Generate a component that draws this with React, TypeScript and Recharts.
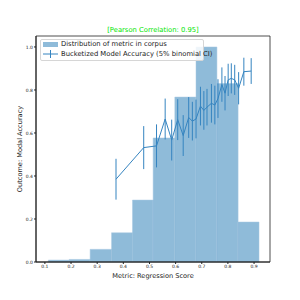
import React from "react";
import {
    ComposedChart,
    Line,
    ErrorBar,
    XAxis,
    YAxis,
    ReferenceArea,
} from "recharts";

// histogram of the metric (bin edges + normalised heights)
const BIN_EDGES = [0.113, 0.193, 0.273, 0.355, 0.435, 0.514, 0.597, 0.678, 0.758, 0.839, 0.919];
const BIN_HEIGHTS = [0.009, 0.012, 0.059, 0.136, 0.288, 0.577, 0.767, 1.0, 0.83, 0.186];

// bucketized accuracy with 5% binomial CI
const ACC_X = [0.372, 0.478, 0.527, 0.56, 0.585, 0.608, 0.629, 0.65, 0.664, 0.678, 0.695, 0.708, 0.72, 0.737, 0.75, 0.762, 0.777, 0.789, 0.801, 0.813, 0.826, 0.841, 0.861, 0.889];
const ACC_Y = [0.385, 0.532, 0.54, 0.665, 0.567, 0.662, 0.588, 0.672, 0.655, 0.665, 0.725, 0.705, 0.72, 0.738, 0.73, 0.76, 0.825, 0.785, 0.847, 0.854, 0.847, 0.808, 0.885, 0.888];
const ACC_ERR = [0.095, 0.1, 0.1, 0.095, 0.095, 0.095, 0.095, 0.095, 0.09, 0.09, 0.09, 0.09, 0.085, 0.09, 0.09, 0.09, 0.08, 0.08, 0.075, 0.07, 0.07, 0.075, 0.065, 0.06];

const X_TICKS = [0.1, 0.2, 0.3, 0.4, 0.5, 0.6, 0.7, 0.8, 0.9];
const Y_TICKS = [0, 0.2, 0.4, 0.6, 0.8, 1.0];

const X_DOMAIN = [0.066, 0.961];
const Y_DOMAIN = [0, 1.051];

const BAR_COLOR = "#1f77b4";
const LINE_COLOR = "#3584c0";
const FONT = "DejaVu Sans";

const data = ACC_X.map((x, i) => ({ x, y: ACC_Y[i], err: ACC_ERR[i] }));

const tickStyle = { fontSize: 4.5, fill: "#222", fontFamily: FONT };

const LegendBox = () => (
    <div
        style={{
            position: "absolute",
            left: 40,
            top: 39,
            width: 162,
            height: 20,
            border: "1px solid #d6d6d6",
            borderRadius: 2,
            background: "rgba(255,255,255,0.85)",
            fontFamily: FONT,
            fontSize: 6.8,
            color: "#222",
        }}
    >
        <div style={{ position: "absolute", left: 2, top: 2, width: 15, height: 5, background: BAR_COLOR, opacity: 0.5 }} />
        <div style={{ position: "absolute", left: 20, top: 0, lineHeight: "9px", whiteSpace: "nowrap" }}>
            Distribution of metric in corpus
        </div>
        <svg style={{ position: "absolute", left: 2, top: 9 }} width={16} height={10}>
            <line x1={0} y1={5} x2={15} y2={5} stroke={LINE_COLOR} strokeWidth={1} />
            <line x1={7.5} y1={1} x2={7.5} y2={9} stroke={LINE_COLOR} strokeWidth={1} />
        </svg>
        <div style={{ position: "absolute", left: 20, top: 9.5, lineHeight: "9px", whiteSpace: "nowrap" }}>
            Bucketized Model Accuracy (5% binomial CI)
        </div>
    </div>
);

export default function App() {
    return (
        <div style={{ position: "absolute", left: 0, top: 0, width: 300, height: 300, background: "#fff" }}>
            <div
                style={{
                    position: "absolute",
                    left: 36,
                    width: 234,
                    top: 26,
                    textAlign: "center",
                    fontFamily: FONT,
                    fontSize: 6.8,
                    color: "#00e600",
                    lineHeight: "9px",
                }}
            >
                [Pearson Correlation: 0.95]
            </div>
            <ComposedChart
                width={300}
                height={300}
                data={data}
                margin={{ top: 36, right: 30, bottom: 0, left: 0 }}
            >
                <XAxis
                    dataKey="x"
                    type="number"
                    domain={X_DOMAIN}
                    ticks={X_TICKS}
                    tickFormatter={(v: number) => v.toFixed(1)}
                    allowDataOverflow
                    height={38}
                    tick={tickStyle}
                    tickSize={2}
                    tickMargin={1}
                    stroke="#222"
                    interval={0}
                    label={{
                        value: "Metric: Regression Score",
                        position: "insideBottom",
                        offset: 22,
                        style: { fontSize: 6.6, fill: "#222", fontFamily: FONT },
                    }}
                />
                <YAxis
                    type="number"
                    domain={Y_DOMAIN}
                    ticks={Y_TICKS}
                    tickFormatter={(v: number) => v.toFixed(1)}
                    allowDataOverflow
                    width={36}
                    tick={tickStyle}
                    tickSize={2}
                    tickMargin={1}
                    stroke="#222"
                    interval={0}
                    label={{
                        value: "Outcome: Modal Accuracy",
                        angle: -90,
                        position: "insideLeft",
                        offset: 20,
                        style: { fontSize: 6.6, fill: "#222", fontFamily: FONT, textAnchor: "middle" },
                    }}
                />
                {BIN_HEIGHTS.map((h, i) => (
                    <ReferenceArea
                        key={`bin-${i}`}
                        x1={BIN_EDGES[i]}
                        x2={BIN_EDGES[i + 1]}
                        y1={0}
                        y2={h}
                        fill={BAR_COLOR}
                        fillOpacity={0.5}
                        stroke="#a9c9e2"
                        strokeWidth={0.5}
                    />
                ))}
                <ReferenceArea
                    x1={X_DOMAIN[0]}
                    x2={X_DOMAIN[1]}
                    y1={Y_DOMAIN[0]}
                    y2={Y_DOMAIN[1]}
                    fill="none"
                    stroke="#222"
                    strokeWidth={0.8}
                />
                <Line
                    dataKey="y"
                    stroke={LINE_COLOR}
                    strokeWidth={1}
                    dot={false}
                    isAnimationActive={false}
                >
                    <ErrorBar dataKey="err" direction="y" width={0} stroke={LINE_COLOR} strokeWidth={1} isAnimationActive={false} />
                </Line>
            </ComposedChart>
            <LegendBox />
        </div>
    );
}
